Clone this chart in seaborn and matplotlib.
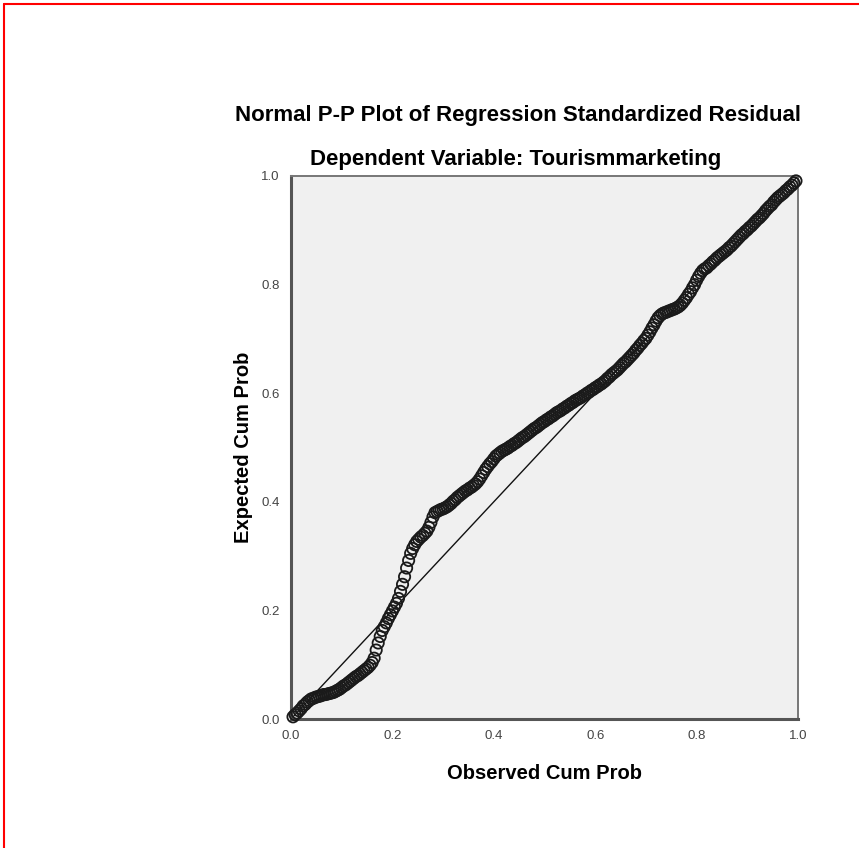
import numpy as np
import pandas as pd
import matplotlib
matplotlib.use('Agg')
import matplotlib.pyplot as plt
import seaborn as sns
from matplotlib.lines import Line2D

# observed cumulative probability (x) and expected cumulative probability (y)
observed_a = [
    0.004, 0.012, 0.020, 0.028, 0.036, 0.044, 0.052, 0.060, 0.068, 0.076,
    0.084, 0.092, 0.100, 0.108, 0.116, 0.124, 0.132, 0.140, 0.148, 0.156,
    0.164, 0.172, 0.180, 0.188, 0.196, 0.204, 0.212, 0.220, 0.228, 0.236,
    0.244, 0.252, 0.260, 0.268, 0.276, 0.284, 0.292, 0.300, 0.308, 0.316,
    0.324, 0.332, 0.340, 0.348, 0.356, 0.364, 0.372, 0.380, 0.388, 0.396,
    0.404, 0.412, 0.420, 0.428, 0.436, 0.444, 0.452, 0.460, 0.468, 0.476,
    0.484, 0.492, 0.500, 0.508, 0.516, 0.524, 0.532, 0.540, 0.548, 0.556,
    0.564, 0.572, 0.580, 0.588, 0.596, 0.604, 0.612, 0.620, 0.628, 0.636,
    0.644, 0.652, 0.660, 0.668, 0.676, 0.684, 0.692, 0.700, 0.708, 0.716,
    0.724, 0.732, 0.740, 0.748, 0.756, 0.764, 0.772, 0.780, 0.788, 0.796,
    0.804, 0.812, 0.820, 0.828, 0.836, 0.844, 0.852, 0.860, 0.868, 0.876,
    0.884, 0.892, 0.900, 0.908, 0.916, 0.924, 0.932, 0.940, 0.948, 0.956,
    0.964, 0.972, 0.980, 0.988, 0.996,
]
expected_a = [
    0.004, 0.011, 0.019, 0.027, 0.034, 0.038, 0.041, 0.043, 0.045, 0.047,
    0.049, 0.053, 0.058, 0.063, 0.069, 0.075, 0.080, 0.086, 0.092, 0.099,
    0.112, 0.140, 0.163, 0.177, 0.192, 0.206, 0.222, 0.248, 0.278, 0.305,
    0.321, 0.331, 0.338, 0.346, 0.362, 0.380, 0.384, 0.387, 0.391, 0.397,
    0.404, 0.411, 0.417, 0.422, 0.427, 0.433, 0.442, 0.454, 0.465, 0.474,
    0.484, 0.490, 0.495, 0.499, 0.504, 0.509, 0.515, 0.520, 0.526, 0.532,
    0.537, 0.543, 0.548, 0.553, 0.558, 0.564, 0.568, 0.573, 0.578, 0.583,
    0.588, 0.592, 0.597, 0.602, 0.607, 0.612, 0.617, 0.623, 0.630, 0.637,
    0.643, 0.651, 0.658, 0.666, 0.674, 0.683, 0.692, 0.701, 0.713, 0.726,
    0.739, 0.746, 0.749, 0.752, 0.755, 0.759, 0.766, 0.776, 0.787, 0.800,
    0.815, 0.826, 0.831, 0.838, 0.845, 0.852, 0.858, 0.864, 0.871, 0.879,
    0.887, 0.894, 0.901, 0.908, 0.916, 0.923, 0.931, 0.940, 0.947, 0.956,
    0.963, 0.969, 0.976, 0.983, 0.991,
]
observed_b = [
    0.008, 0.016, 0.024, 0.032, 0.040, 0.048, 0.056, 0.064, 0.072, 0.080,
    0.088, 0.096, 0.104, 0.112, 0.120, 0.128, 0.136, 0.144, 0.152, 0.160,
    0.168, 0.176, 0.184, 0.192, 0.200, 0.208, 0.216, 0.224, 0.232, 0.240,
    0.248, 0.256, 0.264, 0.272, 0.280, 0.288, 0.296, 0.304, 0.312, 0.320,
    0.328, 0.336, 0.344, 0.352, 0.360, 0.368, 0.376, 0.384, 0.392, 0.400,
    0.408, 0.416, 0.424, 0.432, 0.440, 0.448, 0.456, 0.464, 0.472, 0.480,
    0.488, 0.496, 0.504, 0.512, 0.520, 0.528, 0.536, 0.544, 0.552, 0.560,
    0.568, 0.576, 0.584, 0.592, 0.600, 0.608, 0.616, 0.624, 0.632, 0.640,
    0.648, 0.656, 0.664, 0.672, 0.680, 0.688, 0.696, 0.704, 0.712, 0.720,
    0.728, 0.736, 0.744, 0.752, 0.760, 0.768, 0.776, 0.784, 0.792, 0.800,
    0.808, 0.816, 0.824, 0.832, 0.840, 0.848, 0.856, 0.864, 0.872, 0.880,
    0.888, 0.896, 0.904, 0.912, 0.920, 0.928, 0.936, 0.944, 0.952, 0.960,
    0.968, 0.976, 0.984, 0.992,
]
expected_b = [
    0.008, 0.015, 0.024, 0.031, 0.037, 0.040, 0.042, 0.045, 0.046, 0.048,
    0.051, 0.055, 0.061, 0.066, 0.072, 0.078, 0.083, 0.089, 0.095, 0.104,
    0.127, 0.152, 0.170, 0.185, 0.199, 0.213, 0.235, 0.262, 0.292, 0.314,
    0.327, 0.335, 0.342, 0.353, 0.372, 0.382, 0.386, 0.389, 0.394, 0.401,
    0.408, 0.414, 0.420, 0.425, 0.430, 0.437, 0.448, 0.460, 0.470, 0.479,
    0.487, 0.493, 0.497, 0.502, 0.507, 0.512, 0.518, 0.523, 0.529, 0.535,
    0.540, 0.546, 0.551, 0.556, 0.561, 0.566, 0.571, 0.576, 0.581, 0.586,
    0.590, 0.595, 0.600, 0.605, 0.610, 0.615, 0.620, 0.627, 0.634, 0.640,
    0.647, 0.655, 0.662, 0.670, 0.679, 0.688, 0.697, 0.707, 0.720, 0.733,
    0.743, 0.748, 0.751, 0.754, 0.757, 0.762, 0.771, 0.782, 0.794, 0.808,
    0.821, 0.829, 0.835, 0.842, 0.849, 0.855, 0.861, 0.868, 0.875, 0.883,
    0.891, 0.898, 0.905, 0.912, 0.920, 0.927, 0.936, 0.944, 0.952, 0.960,
    0.966, 0.973, 0.980, 0.987,
]
ticks = [0.0, 0.2, 0.4, 0.6, 0.8, 1.0]
tick_labels = ['0.0', '0.2', '0.4', '0.6', '0.8', '1.0']

sns.set_style('white')
plt.rcParams['font.family'] = ['Liberation Sans', 'DejaVu Sans']

df = pd.DataFrame({'Observed Cum Prob': observed_a + observed_b,
                   'Expected Cum Prob': expected_a + expected_b})

W, H = 859, 848
fig = plt.figure(figsize=(W / 100, H / 100), dpi=100)
ax = fig.add_axes([291 / W, 1 - 719 / H, 507 / W, 543 / H])
ax.set_facecolor('#f0f0f0')

ax.plot([0, 1], [0, 1], color='#111111', linewidth=1.0, zorder=2)
sns.scatterplot(data=df, x='Observed Cum Prob', y='Expected Cum Prob', ax=ax,
                s=66, facecolor='none', edgecolor='#1a1a1a', linewidth=1.3,
                zorder=3, clip_on=False)

ax.set_xlim(0, 1)
ax.set_ylim(0, 1)
ax.set_xticks(ticks)
ax.set_xticklabels(tick_labels)
ax.set_yticks(ticks)
ax.set_yticklabels(tick_labels)
ax.tick_params(axis='both', direction='out', length=6, width=1.5, color='#555555',
               labelsize=9.5, labelcolor='#444444', pad=2)

for side in ['left', 'bottom']:
    ax.spines[side].set_color('#555555')
    ax.spines[side].set_linewidth(2.2)
for side in ['top', 'right']:
    ax.spines[side].set_color('#777777')
    ax.spines[side].set_linewidth(1.4)

ax.set_xlabel('Observed Cum Prob', fontsize=14.5, fontweight='bold', labelpad=16, color='black')
ax.set_ylabel('Expected Cum Prob', fontsize=14.5, fontweight='bold', labelpad=6, color='black')

fig.text(518 / W, 1 - 116 / H, 'Normal P-P Plot of Regression Standardized Residual',
         ha='center', va='center', fontsize=16, fontweight='bold', color='black')
fig.text(516 / W, 1 - 160 / H, 'Dependent Variable: Tourismmarketing',
         ha='center', va='center', fontsize=16, fontweight='bold', color='black')

# red frame on the left and top edges
fig.add_artist(Line2D([4 / W, 4 / W], [0, 1 - 4 / H], color='red', linewidth=1.5))
fig.add_artist(Line2D([4 / W, 1], [1 - 4 / H, 1 - 4 / H], color='red', linewidth=1.5))

fig.savefig('out.png', dpi=100)
plt.close(fig)
